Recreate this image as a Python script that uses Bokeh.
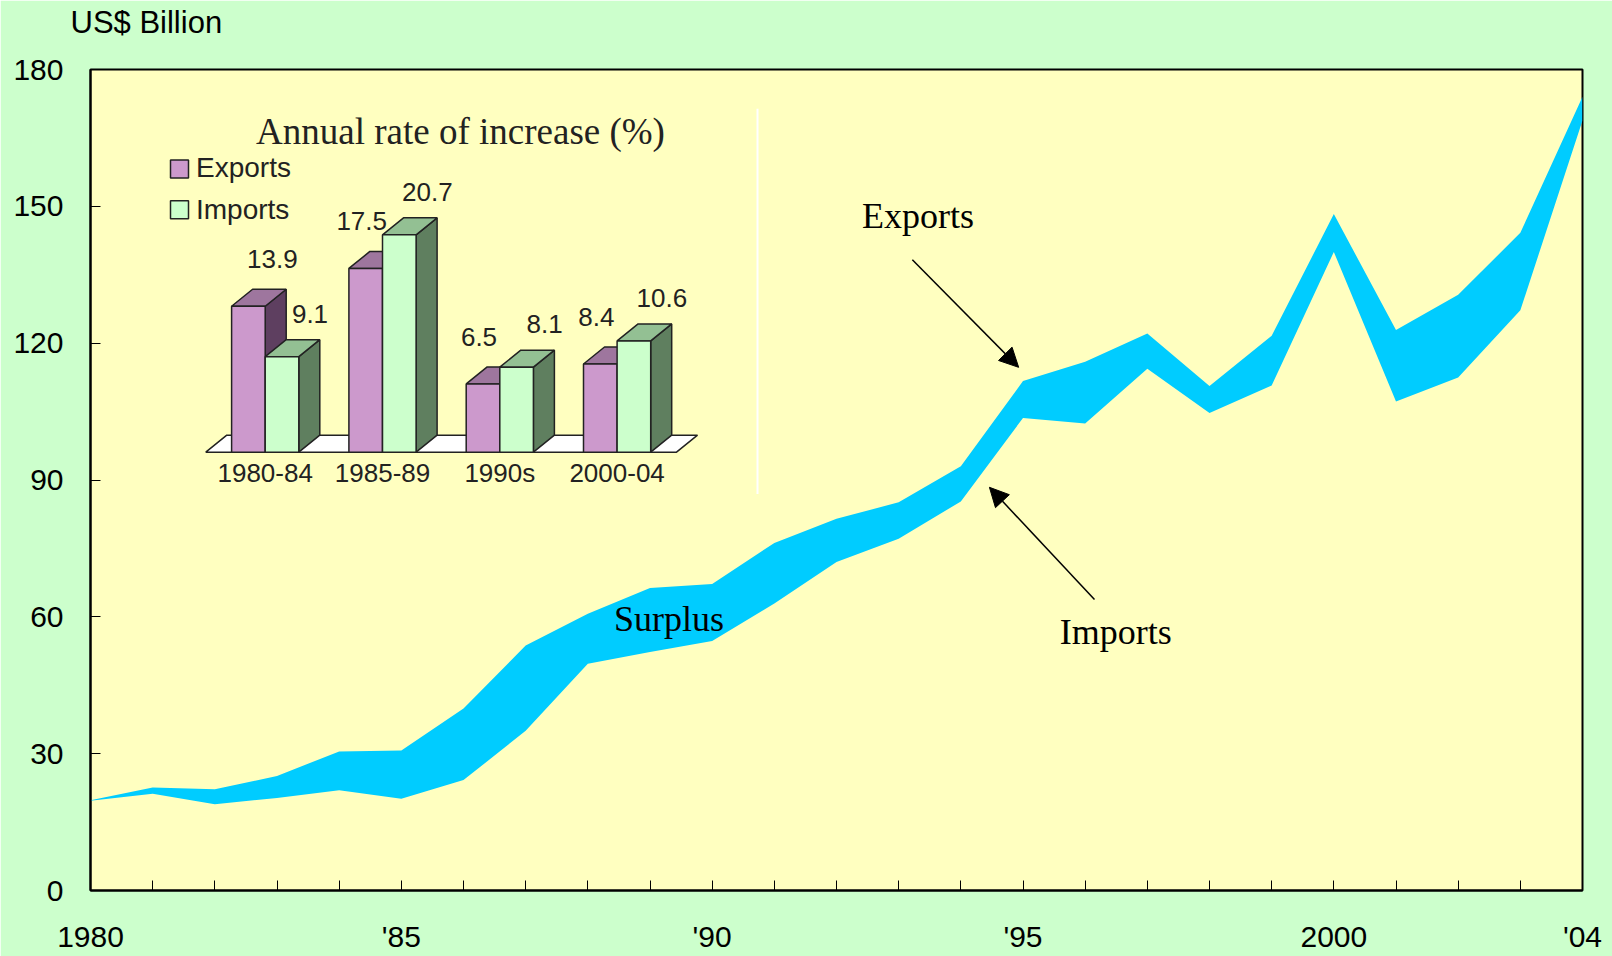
from bokeh.plotting import figure
from bokeh.models import Range1d, FixedTicker, Label, Arrow, NormalHead, ColumnDataSource, Title
from bokeh.core.properties import value
from bokeh.embed import file_html
from bokeh.resources import INLINE

# ---------------- data ----------------
years = list(range(1980, 2005))
exports = [19.8, 22.6, 22.2, 25.1, 30.5, 30.7, 39.9, 53.7, 60.7, 66.3, 67.2, 76.2, 81.5,
           85.1, 93.0, 111.7, 115.9, 122.1, 110.6, 121.6, 148.3, 122.9, 130.6, 144.2, 174.0]
imports = [19.7, 21.2, 18.9, 20.3, 22.0, 20.1, 24.2, 35.0, 49.7, 52.3, 54.7, 62.9, 72.0,
           77.1, 85.3, 103.6, 102.4, 114.4, 104.7, 110.7, 140.0, 107.2, 112.5, 127.2, 168.8]
x_tick_labels = {1980: "1980", 1985: "'85", 1990: "'90", 1995: "'95", 2000: "2000", 2004: "'04"}
y_ticks = [0, 30, 60, 90, 120, 150, 180]

periods = ["1980-84", "1985-89", "1990s", "2000-04"]
exp_rate = [13.9, 17.5, 6.5, 8.4]
imp_rate = [9.1, 20.7, 8.1, 10.6]

# ---------------- layout ----------------
W, H = 1612, 956
BL, BR, BT, BB = 90, 30, 69, 66
FW, FH = W - BL - BR, H - BT - BB

SANS = "Liberation Sans"
SERIF = "Liberation Serif"

p = figure(width=W, height=H, x_range=Range1d(1980, 2004), y_range=Range1d(0, 180),
           output_backend="svg", toolbar_location=None, title=None,
           min_border_left=BL, min_border_right=BR, min_border_top=BT, min_border_bottom=BB,
           background_fill_color="#FFFFC0", border_fill_color="#CCFFCC")
p.grid.visible = False
p.outline_line_color = "black"
p.outline_line_width = 2

# unit caption above the axis (spacer title next to the frame, caption above it)
p.add_layout(Title(text=" ", text_font_size="10px", standoff=12), "above")
p.add_layout(Title(text="US$ Billion", text_font=SANS, text_font_size="31px",
                   text_font_style="normal", text_color="black", align="left",
                   vertical_align="top", offset=-20, standoff=6), "above")

# main area between imports and exports
p.varea(x=years, y1=imports, y2=exports, fill_color="#00CCFF")

# axes
for ax in (p.xaxis[0], p.yaxis[0]):
    ax.axis_line_color = "black"
    ax.axis_line_width = 2
    ax.major_tick_in = 10
    ax.major_tick_out = 0
    ax.minor_tick_line_color = None
    ax.major_tick_line_color = "black"
    ax.major_label_text_font = SANS
    ax.major_label_text_font_size = "30px"
    ax.major_label_text_color = "black"
p.xaxis.ticker = FixedTicker(ticks=years)
p.xaxis.major_label_overrides = {yr: x_tick_labels.get(yr, "") for yr in years}
p.xaxis.major_label_standoff = 29
p.yaxis.ticker = FixedTicker(ticks=y_ticks)
p.yaxis.major_label_standoff = 27

# annotations
for tx, ty, t in [(1992.41, 147.8, "Exports"), (1995.59, 56.6, "Imports"), (1988.42, 59.5, "Surplus")]:
    p.add_layout(Label(x=tx, y=ty, text=t, text_font=SERIF, text_font_size="36px",
                       text_color="black", text_baseline="alphabetic"))
for (xs, ys, xe, ye) in [(1993.22, 138.3, 1994.93, 114.7), (1996.15, 63.8, 1994.46, 88.4)]:
    p.add_layout(Arrow(x_start=xs, y_start=ys, x_end=xe, y_end=ye, line_width=1.5,
                       line_color="black",
                       end=NormalHead(size=19, fill_color="black", line_color="black")))

# ---------------- inset (own ranges) ----------------
PITCH = 117.3            # px per period group
C0 = 264.7 - BL          # px from frame left to first group centre
PXPCT = 10.5             # px per percent
BASE = 451.7 - BT        # px from frame top to inset baseline
p.extra_x_ranges = {"inset": Range1d(-C0 / PITCH, (FW - C0) / PITCH)}
p.extra_y_ranges = {"inset": Range1d(-(FH - BASE) / PXPCT, BASE / PXPCT)}
R = dict(x_range_name="inset", y_range_name="inset")

BW = 33.6 / PITCH
DX = 21.0 / PITCH
DY = 17.0 / PXPCT
MARGIN = 0.22

exp_cols = ("#5E3F60", "#9E769E", "#CC99CC")   # side, top, front
imp_cols = ("#5F7F5F", "#93C093", "#CCFFCC")

# floor
fx0 = 0 - BW - MARGIN
fx1 = (len(periods) - 1) + BW + MARGIN
p.patch(x=[fx0, fx1, fx1 + DX, fx0 + DX], y=[0, 0, DY, DY], fill_color="white",
        line_color="#222222", line_width=1.5, **R)

pxs, pys, pcols = [], [], []
for i in range(len(periods)):
    for v, x0, cols in [(exp_rate[i], i - BW, exp_cols), (imp_rate[i], i, imp_cols)]:
        x1 = x0 + BW
        pxs += [[x1, x1 + DX, x1 + DX, x1], [x0, x0 + DX, x1 + DX, x1], [x0, x1, x1, x0]]
        pys += [[0, DY, v + DY, v], [v, v + DY, v + DY, v], [0, 0, v, v]]
        pcols += list(cols)
p.patches(xs="xs", ys="ys", fill_color="c", line_color="#222222", line_width=1.5,
          source=ColumnDataSource(dict(xs=pxs, ys=pys, c=pcols)), **R)

# value labels
lx, ly, lt = [], [], []
for i in range(len(periods)):
    e, m = exp_rate[i], imp_rate[i]
    lx.append(i - BW / 2 + (24 / PITCH if e > m else -4 / PITCH))
    ly.append(e + 4.5)
    lt.append(f"{e}")
    lx.append(i + BW / 2 + 28 / PITCH)
    ly.append(m + 4.1)
    lt.append(f"{m}")
p.text(x=lx, y=ly, text=lt, text_font=value(SANS), text_font_size="26px",
       text_color="#222222", text_align="center", text_baseline="alphabetic", **R)

# category labels
p.text(x=list(range(len(periods))), y=[-2.0] * len(periods), text=periods,
       text_font=value(SANS), text_font_size="26px", text_color="#222222",
       text_align="center", text_baseline="alphabetic", **R)

# title & legend
p.text(x=[1.665], y=[30.5], text=["Annual rate of increase (%)"], text_font=value(SERIF),
       text_font_size="37px", text_color="#222222", text_align="center",
       text_baseline="alphabetic", **R)
p.scatter(x=[-0.7306, -0.7306], y=[26.97, 23.1], marker="square", size=18,
          fill_color=[exp_cols[2], imp_cols[2]], line_color="#222222", line_width=1.5, **R)
p.text(x=[-0.59, -0.59], y=[27.15, 23.15], text=["Exports", "Imports"], text_font=value(SANS),
       text_font_size="28px", text_color="#222222", text_baseline="alphabetic", **R)

# faint edge of the inset panel
p.segment(x0=[4.197], y0=[32.7], x1=[4.197], y1=[-3.98], line_color="white",
          line_width=2, **R)

open("out.html", "w").write(file_html(p, INLINE))
